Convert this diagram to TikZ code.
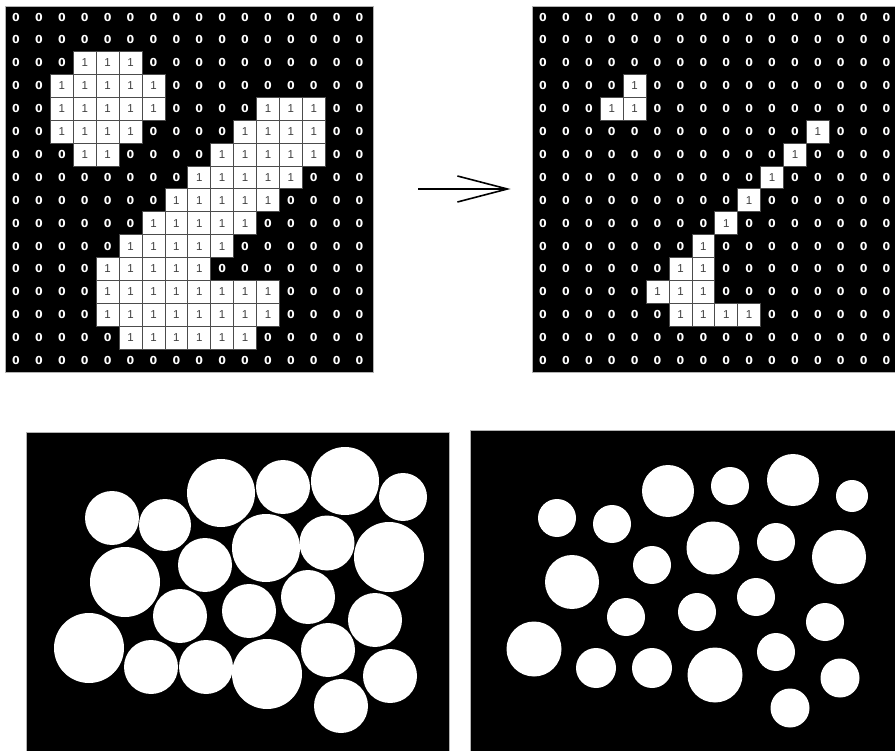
\documentclass[tikz,border=0pt]{standalone}
\usepackage{fontspec}
\newfontfamily\zerofont{DejaVu Sans}
\newfontfamily\onefont{Liberation Sans}
\usetikzlibrary{arrows.meta,positioning}

\begin{document}
\begin{tikzpicture}[
  x=1pt, y=-1pt,
  panel/.style={rectangle, draw=black!30, line width=0.8pt, fill=black, inner sep=0pt},
  bitzero/.style={text=white, inner sep=0pt, font=\zerofont\bfseries\fontsize{11}{12}\selectfont},
  bitone/.style={rectangle, draw=black!70, line width=0.7pt, fill=white, text=black!75,
                 minimum size=22.9pt, inner sep=0pt, font=\onefont\fontsize{11.5}{12}\selectfont}
]
  \useasboundingbox (0,0) rectangle (895,751);
  \fill[white] (0,0) rectangle (895,751);

  \node[panel, minimum width=368pt, minimum height=366pt] (gridin)  at (189,189) {};
  \node[panel, minimum width=366pt, minimum height=366pt] (gridout) at (715,189) {};
  \node[panel, minimum width=423pt, minimum height=328pt] (blobsin)  at (237.5,596) {};
  \node[panel, minimum width=430pt, minimum height=330pt] (blobsout) at (685,595) {};

  \draw[line width=2pt, -{Straight Barb[length=50pt, width=26pt, line width=1.6pt]},
        shorten <=45pt, shorten >=21pt] (gridin) -- (gridout);

  \begin{scope}[shift={(gridin.north west)}]
    \foreach \r in {0,...,15}
      \foreach \c in {0,...,15}
        \node[bitzero] at ({22.9*(\c+0.5)},{22.9*(\r+0.5)}) {0};
    \foreach \r/\cs in {2/{3,4,5}, 3/{2,...,6}, 4/{2,3,4,5,6,11,12,13}, 5/{2,3,4,5,10,11,12,13},
                        6/{3,4,9,10,11,12,13}, 7/{8,...,12}, 8/{7,...,11}, 9/{6,...,10},
                        10/{5,...,9}, 11/{4,...,8}, 12/{4,...,11}, 13/{4,...,11}, 14/{5,...,10}}
      \foreach \c in \cs
        \node[bitone] at ({22.9*(\c+0.5)},{22.9*(\r+0.5)}) {1};
  \end{scope}

  \begin{scope}[shift={(gridout.north west)}]
    \foreach \r in {0,...,15}
      \foreach \c in {0,...,15}
        \node[bitzero] at ({22.9*(\c+0.5)},{22.9*(\r+0.5)}) {0};
    \foreach \r/\cs in {3/{4}, 4/{3,4}, 5/{12}, 6/{11}, 7/{10}, 8/{9}, 9/{8}, 10/{7},
                        11/{6,7}, 12/{5,6,7}, 13/{6,...,9}}
      \foreach \c in \cs
        \node[bitone] at ({22.9*(\c+0.5)},{22.9*(\r+0.5)}) {1};
  \end{scope}

  \foreach \x/\y/\rad in {112/518/27, 165/525/26, 221/493/34, 283/487/27, 345/481/34, 403/497/24,
                          125/582/35, 205/565/27, 266/548/34, 327/543/27.5, 389/557/35,
                          180/616/27, 249/611/27, 308/597/27, 375/620/27,
                          89/648/35, 151/667/27, 206/667/27, 267/674/35, 328/650/27, 390/676/27,
                          341/706/27}
    \fill[white] (\x,\y) circle[radius=\rad];

  \foreach \x/\y/\rad in {557/518/19, 612/524/19, 668/491/26, 730/486/19, 793/480/26, 852/496/16,
                          572/582/27, 652/565/19, 713/548/26.5, 776/542/19, 839/557/27,
                          626/617/19, 756/597/19, 697/612/19, 825/622/19,
                          534/649/27.5, 596/668/20, 652/668/20, 715/675/27.5, 776/652/19, 840/678/19.5,
                          790/708/19.5}
    \fill[white] (\x,\y) circle[radius=\rad];
\end{tikzpicture}
\end{document}
